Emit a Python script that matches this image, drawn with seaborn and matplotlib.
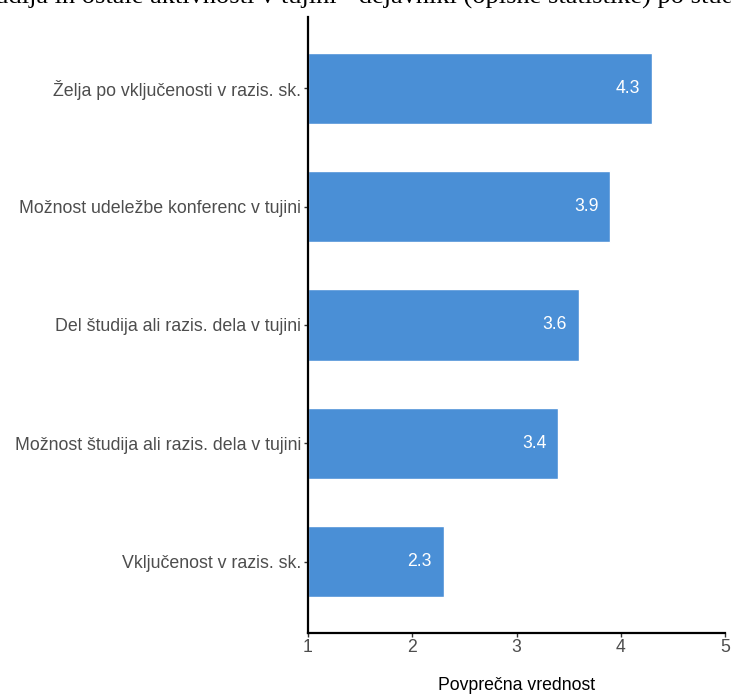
import matplotlib
matplotlib.use("Agg")
import matplotlib.pyplot as plt
import seaborn as sns
import pandas as pd

categories = [
    "Želja po vključenosti v razis. sk.",
    "Možnost udeležbe konferenc v tujini",
    "Del študija ali razis. dela v tujini",
    "Možnost študija ali razis. dela v tujini",
    "Vključenost v razis. sk.",
]
values = [4.3, 3.9, 3.6, 3.4, 2.3]
x_ticks = [1, 2, 3, 4, 5]
title_text = "Izmenjava študija in ostale aktivnosti v tujini - dejavniki (opisne statistike) po študijskih smereh"
title_prefix = "Izmenjava študija in ostale aktivnosti v tujini "
xlabel = "Povprečna vrednost"

df = pd.DataFrame({"cat": categories, "val": values})

sns.set_theme(style="white")
plt.rcParams["font.family"] = ["Liberation Sans", "DejaVu Sans"]

fig = plt.figure(figsize=(7.31, 6.95), dpi=100)
ax = fig.add_axes([308 / 731, 1 - 633 / 695, (725 - 308) / 731, (633 - 17) / 695])

sns.barplot(data=df, x="val", y="cat", orient="h", color="#4A8FD6",
            width=0.6, ax=ax, saturation=1)
for p in ax.patches:
    p.set_x(1)
    p.set_width(p.get_width() - 1)

ax.set_xlim(1, 5)
ax.set_ylim(4.6, -0.6)
ax.set_xticks(x_ticks)
ax.set_xticklabels([str(t) for t in x_ticks])
ax.set_ylabel("")
ax.set_xlabel(xlabel, fontsize=12.7, color="black", va="center")
ax.xaxis.set_label_coords(0.5, (633 - 686) / 616)

for i, v in enumerate(values):
    ax.text(v - 0.115, i, f"{v:.1f}", ha="right", va="center", color="white", fontsize=12.7)

for s in ["top", "right"]:
    ax.spines[s].set_visible(False)
for s in ["left", "bottom"]:
    ax.spines[s].set_color("black")
    ax.spines[s].set_linewidth(1.6)

ax.tick_params(axis="y", length=3, width=1, color="#333333", labelsize=12.8,
               labelcolor="#4D4D4D", pad=2, left=True)
ax.tick_params(axis="x", length=3, width=1, color="#333333", labelsize=12.7,
               labelcolor="#4D4D4D", pad=1, bottom=True)

# title clipped at top
tfont = dict(family=["Liberation Serif", "DejaVu Serif"], size=19)
tmp = fig.text(0, 0, title_prefix, **tfont)
fig.canvas.draw()
w = tmp.get_window_extent(fig.canvas.get_renderer()).width
tmp.remove()
fig.text((343 - w) / 731, 1 - 3.5 / 695, title_text, ha="left", va="baseline",
         color="black", **tfont)

fig.savefig("out.png", dpi=100)
